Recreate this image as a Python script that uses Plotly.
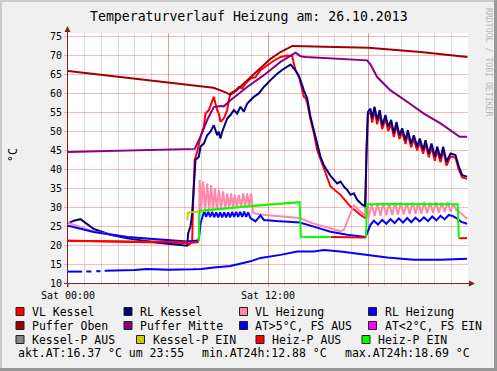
import plotly.graph_objects as go

# ---------------- data (hours since Sat 00:00, °C) ----------------
vl_kessel_h = [0, 3.5, 7.15, 7.25, 7.4, 7.45, 7.5, 7.55, 7.6, 7.75, 7.85, 7.95, 8.15, 8.25, 8.45, 8.65, 8.75,
               8.85, 8.95, 9.05, 9.15, 9.35, 9.55, 9.65, 9.75, 10.05, 10.25, 10.45, 10.65, 10.95, 11.25, 11.55,
               11.95, 12.35, 12.75, 13.15, 13.45, 13.55, 13.65, 13.85, 14.05, 14.15, 14.25, 14.35, 14.55, 14.75,
               14.95, 15.15, 15.35, 15.75, 16.35, 16.95, 17.55, 17.85, 17.9, 17.95, 18.0,
               18.15, 18.25, 18.39, 18.55, 18.71, 18.85, 19.05, 19.21, 19.39, 19.55, 19.71, 19.89, 20.05, 20.25,
               20.39, 20.59, 20.75, 20.95, 21.11, 21.31, 21.45, 21.65, 21.81, 22.01, 22.15, 22.35, 22.51, 22.71,
               22.95, 23.25, 23.45, 23.65, 23.95]
vl_kessel_c = [21.1, 20.9, 20.5, 20.1, 20.6, 21.0, 30.0, 39.7, 42.4, 44.5, 46.7, 48.5, 51.1, 54.6, 55.5, 58.1, 59.0,
               57.2, 55.5, 54.6, 52.4, 53.3, 55.5, 58.1, 59.9, 60.7, 61.6, 61.2, 62.5, 63.8, 64.2, 66.0,
               67.3, 68.5, 69.5, 69.9, 69.7, 67.7, 66.0, 64.7, 60.5, 59.0, 58.7, 57.5, 53.0, 49.5,
               45.0, 42.5, 40.2, 35.4, 33.2, 30.1, 27.9, 27.1, 45.0, 50.5, 54.5,
               54.8, 52.2, 55.5, 51.8, 54.5, 50.5, 53.2, 50.0, 51.9, 48.4, 51.4, 47.9, 49.7, 46.6,
               49.2, 45.7, 47.9, 44.9, 47.0, 44.0, 46.6, 43.1, 45.7, 42.2, 44.9, 41.8, 44.9, 40.9,
               43.3, 43.0, 39.8, 37.8, 37.4]

rl_kessel_h = [0, 0.35, 0.75, 1.05, 1.55, 2.55, 3.55, 5.55, 7.15, 7.21, 7.35, 7.45, 7.55, 7.59, 7.65, 7.85, 7.95,
               8.15, 8.35, 8.55, 8.65, 8.75, 8.85, 8.95, 9.05, 9.15, 9.25, 9.35, 9.55, 9.75, 9.95, 10.15, 10.35,
               10.55, 10.75, 10.95, 11.15, 11.45, 11.75, 12.15, 12.55, 12.95, 13.35, 13.65, 13.95, 14.15, 14.35,
               14.55, 14.75, 14.95, 15.15, 15.35, 15.75, 16.15, 16.35, 16.55, 16.75, 16.95, 17.15, 17.35, 17.65,
               17.82, 17.88, 17.95, 17.99, 18.15, 18.25, 18.39, 18.55, 18.71, 18.85, 19.05, 19.21, 19.39, 19.55,
               19.71, 19.89, 20.05, 20.25, 20.39, 20.59, 20.75, 20.95, 21.11, 21.31, 21.45, 21.65, 21.81, 22.01,
               22.15, 22.35, 22.51, 22.71, 22.95, 23.25, 23.45, 23.65, 23.95]
rl_kessel_c = [25.7, 26.4, 26.8, 25.8, 24.2, 22.7, 21.8, 20.5, 19.8, 23.1, 24.9, 28.4, 34.5, 38.0, 42.4, 43.2, 45.9,
               46.7, 48.9, 49.8, 50.7, 51.5, 50.2, 48.9, 49.8, 48.0, 49.8, 51.1, 53.3, 54.2, 55.5, 54.6, 56.4,
               55.1, 57.2, 58.1, 59.0, 59.9, 61.6, 63.4, 65.1, 66.4, 67.5, 66.0, 63.4, 60.7, 58.6,
               53.7, 50.2, 45.9, 43.2, 41.0, 38.2, 36.2, 36.7, 35.4, 34.5, 33.2, 33.6, 31.9, 30.6,
               30.2, 40.0, 49.4, 55.0, 55.9, 53.3, 56.4, 52.9, 55.5, 51.5, 54.2, 51.1, 52.9, 49.4,
               52.4, 48.9, 50.7, 47.6, 50.2, 46.7, 48.9, 45.9, 48.0, 45.0, 47.6, 44.1, 46.7, 43.2,
               45.9, 42.8, 45.9, 41.9, 44.1, 43.7, 40.6, 38.4, 38.0]

vl_heizung_h = [0, 1.55, 3.55, 5.55, 7.15, 7.7, 7.85, 7.9, 7.98, 8.11, 8.23, 8.35, 8.47, 8.59, 8.70, 8.81, 8.93,
                9.05, 9.18, 9.31, 9.43, 9.55, 9.67, 9.79, 9.90, 10.01, 10.13, 10.25, 10.38, 10.51, 10.63, 10.75,
                10.87, 10.99, 11.1, 11.3, 12.0, 12.9, 13.9, 14.7, 15.75, 16.35, 16.55, 16.7, 17.0, 17.15, 17.55,
                17.85, 17.90, 18.05, 18.22, 18.40, 18.57, 18.75, 18.92, 19.10, 19.27, 19.45, 19.62, 19.80, 19.97,
                20.15, 20.32, 20.50, 20.67, 20.85, 21.02, 21.20, 21.37, 21.55, 21.72, 21.90, 22.07, 22.25, 22.42,
                22.60, 22.77, 22.95, 23.12, 23.30, 23.50, 23.70, 23.95]
vl_heizung_c = [25.9, 23.5, 22.2, 21.2, 20.7, 21.0, 22.0, 37.1, 29.0, 36.7, 29.0, 36.2, 29.2, 35.8, 29.2, 34.9, 29.3,
                34.5, 29.4, 34.1, 29.5, 33.6, 29.6, 33.6, 29.7, 33.2, 29.8, 33.2, 29.9, 33.6, 30.0, 33.6,
                30.0, 33.6, 28.5, 28.2, 27.8, 27.5, 27.1, 25.7, 24.4, 23.6, 24.0, 25.7, 29.2, 30.4, 28.8,
                27.5, 30.0, 27.3, 30.8, 27.6, 31.0, 27.7, 31.1, 27.8, 31.0, 27.9, 31.1, 28.0, 31.2,
                28.0, 31.1, 28.1, 31.2, 28.2, 31.1, 28.2, 31.3, 28.3, 31.2, 28.4, 31.3, 28.5, 31.2,
                28.6, 31.3, 28.8, 30.8, 29.2, 28.6, 27.8, 26.9]

rl_heizung_h = [0, 1.55, 3.55, 5.55, 7.15, 7.8, 7.85, 7.95, 8.05, 8.17, 8.29, 8.41, 8.53, 8.65, 8.77, 8.89, 9.01,
                9.13, 9.25, 9.37, 9.49, 9.61, 9.73, 9.85, 9.97, 10.09, 10.21, 10.33, 10.45, 10.57, 10.69, 10.81,
                10.95, 11.25, 11.55, 11.75, 12.5, 13.9, 14.7, 15.75, 16.75, 17.85, 17.95, 18.15, 18.35, 18.6,
                18.85, 19.1, 19.35, 19.6, 19.85, 20.1, 20.35, 20.6, 20.85, 21.1, 21.35, 21.6, 21.85, 22.1, 22.35,
                22.6, 22.85, 23.1, 23.3, 23.6, 23.95]
rl_heizung_c = [25.1, 23.4, 22.1, 21.4, 20.9, 21.2, 21.4, 25.7, 27.5, 28.9, 27.4, 28.8, 27.4, 28.7, 27.3, 28.6, 27.3,
                28.6, 27.3, 28.6, 27.3, 28.6, 27.3, 28.7, 27.4, 28.7, 27.4, 28.7, 27.4, 28.8, 27.4, 28.6,
                27.1, 26.2, 27.8, 26.6, 26.3, 25.9, 24.9, 23.5, 22.7, 22.1, 23.1, 25.3, 26.4, 25.4,
                26.6, 25.6, 26.8, 25.8, 27.0, 25.9, 27.1, 26.0, 27.2, 26.2, 27.3, 26.3, 27.5, 26.5, 27.7,
                26.8, 27.9, 27.6, 27.1, 26.1, 25.6]

puffer_oben_h = [0, 8.73, 9.27, 9.75, 10.05, 10.65, 11.25, 11.67, 12.15, 12.75, 13.47, 18.03, 21.15, 23.97]
puffer_oben_c = [65.8, 61.4, 60.5, 59.6, 60.5, 63.0, 65.3, 67.0, 69.0, 70.8, 72.4, 71.9, 70.8, 69.5]

puffer_mitte_h = [0, 7.6, 7.95, 8.35, 8.75, 9.15, 9.35, 9.75, 10.75, 11.75, 12.75, 13.55, 13.65, 13.95, 14.25,
                  17.95, 18.15, 18.55, 19.35, 20.35, 21.35, 22.35, 23.35, 23.5, 23.95]
puffer_mitte_c = [44.5, 45.3, 48.5, 52.9, 56.3, 56.6, 56.5, 58.1, 61.6, 64.7, 68.2, 70.5, 70.6, 69.7, 69.5,
                  68.6, 67.5, 64.2, 60.7, 57.7, 54.6, 52.0, 48.9, 48.5, 48.5]

at_h = [0, 0.85, None, 1.1, 1.4, None, 1.7, 1.95, None, 2.2, 3.0, 4.0, 4.75, 6.0, 7.5, 8.0, 8.75, 9.75, 10.95,
        11.55, 12.75, 13.75, 14.75, 15.35, 16.35, 17.95, 19.15, 20.75, 22.35, 23.95]
at_c = [13.0, 13.0, None, 13.0, 13.05, None, 13.1, 13.1, None, 13.2, 13.3, 13.4, 13.7, 13.5, 13.6, 13.7, 14.1,
        14.5, 15.7, 16.6, 17.4, 18.3, 18.3, 18.7, 18.3, 17.4, 16.7, 16.1, 16.1, 16.4]

kessel_p_ein_h = [7.15, 7.2, 7.85, 9.0, 10.0, 11.0, 12.5, 13.9]
kessel_p_ein_c = [26.5, 28.5, 28.8, 29.4, 29.9, 30.3, 30.8, 31.2]

heiz_p_aus_h = [0, 3.5, 7.15, 7.25, 7.4, 7.85, None, 15.75, 17.88, None, 23.45, 23.95]
heiz_p_aus_c = [21.1, 20.9, 20.7, 20.1, 20.6, 20.8, None, 22.1, 22.0, None, 21.8, 21.8]

heiz_p_ein_h = [7.85, 7.9, 8.5, 9.5, 10.5, 11.5, 12.5, 13.0, 13.9, 13.97, 14.4, 15.75, None,
                17.88, 17.93, 19.0, 20.5, 22.0, 23.38, 23.45]
heiz_p_ein_c = [20.9, 29.0, 29.3, 29.7, 30.1, 30.5, 30.9, 31.1, 31.3, 22.2, 22.1, 22.1, None,
                22.0, 30.7, 30.8, 30.8, 30.8, 30.7, 21.8]

x_tick_vals = [0, 6, 12, 18]
x_tick_text = ["Sat 00:00", "", "Sat 12:00", ""]

legend_rows = [
    [("VL Kessel", "#FF0000"), ("RL Kessel", "#000080"), ("VL Heizung", "#FF88AA"), ("RL Heizung", "#0000FF")],
    [("Puffer Oben", "#A00000"), ("Puffer Mitte", "#880088"), ("AT>5°C, FS AUS", "#0000FF"),
     ("AT&lt;2°C, FS EIN", "#FF00FF")],
    [("Kessel-P AUS", "#888888"), ("Kessel-P EIN", "#CCCC00"), ("Heiz-P AUS", "#FF0000"), ("Heiz-P EIN", "#00FF00")],
]
stats_texts = ["akt.AT:16.37 °C um 23:55", "min.AT24h:12.88 °C", "max.AT24h:18.69 °C"]

# ---------------- figure ----------------
L, T, W, H = 68, 33, 400, 250
FIG_W, FIG_H = 497, 371


def fx(px):
    return (px - L) / W


def fy(py):
    return (T + H - py) / H


MONO = "DejaVu Sans Mono"

series = [
    (vl_kessel_h, vl_kessel_c, "#FF0000"),
    (rl_kessel_h, rl_kessel_c, "#000080"),
    (vl_heizung_h, vl_heizung_c, "#FF88AA"),
    (rl_heizung_h, rl_heizung_c, "#0000FF"),
    (puffer_oben_h, puffer_oben_c, "#A00000"),
    (puffer_mitte_h, puffer_mitte_c, "#880088"),
    (at_h, at_c, "#0000FF"),
    (kessel_p_ein_h, kessel_p_ein_c, "#CCCC00"),
    (heiz_p_aus_h, heiz_p_aus_c, "#FF0000"),
    (heiz_p_ein_h, heiz_p_ein_c, "#00FF00"),
]

fig = go.Figure()
for xs, ys, col in series:
    fig.add_trace(go.Scatter(x=xs, y=ys, mode="lines", line=dict(color=col, width=2),
                             connectgaps=False, showlegend=False, hoverinfo="skip"))

MGRID = "rgba(255,0,0,0.28)"
GRID = "rgba(120,120,120,0.28)"

fig.update_layout(
    width=FIG_W, height=FIG_H,
    margin=dict(l=L, r=FIG_W - L - W, t=T, b=FIG_H - T - H, pad=0),
    paper_bgcolor="#F0F0F0", plot_bgcolor="#FFFFFF",
    showlegend=False,
    font=dict(family=MONO, color="#000000"),
    xaxis=dict(range=[0, 24], tickvals=x_tick_vals, ticktext=x_tick_text, automargin=False,
               showgrid=True, gridcolor=MGRID, gridwidth=1, zeroline=False, showline=False,
               ticks="outside", ticklen=3, tickcolor=MGRID, tickfont=dict(family=MONO, size=10),
               minor=dict(dtick=1, tick0=0, showgrid=True, gridcolor=GRID, ticks="outside",
                          ticklen=2, tickcolor=GRID)),
    yaxis=dict(range=[10, 75.8], tick0=10, dtick=5, automargin=False,
               showgrid=True, gridcolor=MGRID, gridwidth=1, zeroline=False, showline=False,
               ticks="outside", ticklen=3, tickcolor=MGRID, tickfont=dict(family=MONO, size=10)),
)

shapes = []
AX = "#802020"
# axes lines + arrows
shapes.append(dict(type="line", xref="paper", yref="paper", x0=fx(67.5), x1=fx(67.5), y0=fy(287), y1=fy(31),
                   line=dict(color=AX, width=1)))
shapes.append(dict(type="line", xref="paper", yref="paper", x0=fx(64), x1=fx(470), y0=fy(283.5), y1=fy(283.5),
                   line=dict(color=AX, width=1)))
shapes.append(dict(type="path", xref="paper", yref="paper",
                   path=f"M {fx(67.5)},{fy(26)} L {fx(64.5)},{fy(32)} L {fx(70.5)},{fy(32)} Z",
                   fillcolor=AX, line=dict(color=AX, width=0)))
shapes.append(dict(type="path", xref="paper", yref="paper",
                   path=f"M {fx(475)},{fy(283.5)} L {fx(469)},{fy(280.5)} L {fx(469)},{fy(286.5)} Z",
                   fillcolor=AX, line=dict(color=AX, width=0)))
# 3D frame around the image
shapes.append(dict(type="rect", xref="paper", yref="paper", x0=fx(0), x1=fx(2), y0=fy(0), y1=fy(371),
                   fillcolor="#CBCBCB", line=dict(width=0)))
shapes.append(dict(type="rect", xref="paper", yref="paper", x0=fx(0), x1=fx(497), y0=fy(0), y1=fy(2),
                   fillcolor="#CBCBCB", line=dict(width=0)))
shapes.append(dict(type="rect", xref="paper", yref="paper", x0=fx(494), x1=fx(497), y0=fy(0), y1=fy(371),
                   fillcolor="#999999", line=dict(width=0)))
shapes.append(dict(type="rect", xref="paper", yref="paper", x0=fx(0), x1=fx(497), y0=fy(368), y1=fy(371),
                   fillcolor="#999999", line=dict(width=0)))

annotations = []
# legend
row_y = [311.5, 325.5, 339.5]
sq_x = [[16, 124, 239.5, 368.5], [16, 124, 239.5, 368.5], [16, 136.5, 256, 362]]
tx_x = [[30, 138, 253, 382.5], [30, 138, 253, 382.5], [30, 150.5, 270, 376]]
for r, row in enumerate(legend_rows):
    for c, (label, col) in enumerate(row):
        sx = sq_x[r][c]
        yy = row_y[r]
        shapes.append(dict(type="rect", xref="paper", yref="paper", x0=fx(sx), x1=fx(sx + 8),
                           y0=fy(yy - 4), y1=fy(yy + 4), fillcolor=col, line=dict(color="#222222", width=1)))
        annotations.append(dict(text=label, x=fx(tx_x[r][c]), y=fy(yy), xref="paper", yref="paper",
                                xanchor="left", yanchor="middle", showarrow=False,
                                font=dict(family=MONO, size=11.5, color="#000000")))
for txt, px in zip(stats_texts, [16, 200, 342.5]):
    annotations.append(dict(text=txt, x=fx(px), y=fy(353), xref="paper", yref="paper",
                            xanchor="left", yanchor="middle", showarrow=False,
                            font=dict(family=MONO, size=11.5, color="#000000")))
# title
annotations.append(dict(text="Temperaturverlauf Heizung am: 26.10.2013", x=fx(249), y=fy(17),
                        xref="paper", yref="paper", xanchor="center", yanchor="middle", showarrow=False,
                        font=dict(family=MONO, size=13.2, color="#000000")))
# y label
annotations.append(dict(text="°C", x=fx(13), y=fy(155), xref="paper", yref="paper", textangle=-90,
                        xanchor="center", yanchor="middle", showarrow=False,
                        font=dict(family=MONO, size=11.5, color="#000000")))
# watermark
annotations.append(dict(text="RRDTOOL / TOBI OETIKER", x=fx(488.5), y=fy(6), xref="paper", yref="paper",
                        textangle=90, xanchor="center", yanchor="top", showarrow=False,
                        font=dict(family=MONO, size=8.2, color="#BBBBBB")))

fig.update_layout(shapes=shapes, annotations=annotations)
fig.write_html("out.html", config={"displayModeBar": False, "staticPlot": True},
               post_script="document.body.style.margin='0';document.body.style.padding='0';"
                           "document.documentElement.style.margin='0';")
